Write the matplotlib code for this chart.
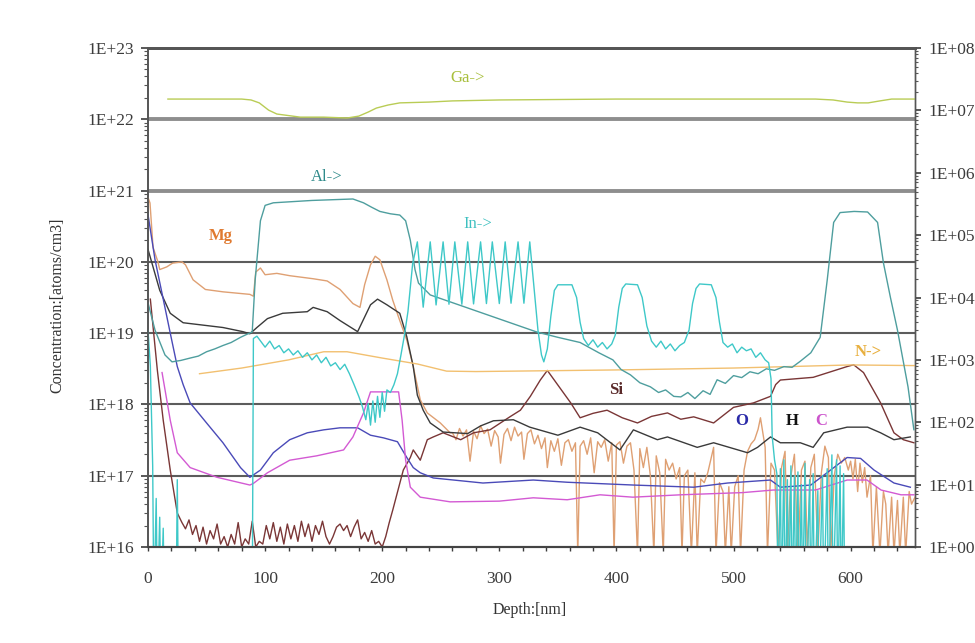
import matplotlib
matplotlib.use("Agg")
import numpy as np
import matplotlib.pyplot as plt
from matplotlib.ticker import LogLocator, MultipleLocator, NullFormatter

plt.rcParams["font.family"] = ["Liberation Serif", "DejaVu Serif"]

# ---- right axis (counts): Ga, Al, In, N ----
ga_depth = [17, 80, 88, 95, 103, 110, 130, 150, 170, 180, 188, 195, 205, 215, 240,
            260, 300, 400, 500, 570, 585, 597, 606, 615, 625, 635, 655]
ga_counts = [1.52e7, 1.52e7, 1.47e7, 1.32e7, 1.01e7, 8.75e6, 7.8e6, 7.8e6, 7.55e6, 8.1e6,
             9.4e6, 1.09e7, 1.22e7, 1.32e7, 1.36e7, 1.42e7, 1.47e7, 1.52e7, 1.52e7,
             1.52e7, 1.47e7, 1.36e7, 1.32e7, 1.32e7, 1.42e7, 1.52e7, 1.52e7]

al_depth = [0, 6, 14.5, 20.5, 28, 36, 43, 50, 57, 64, 71, 79, 85, 89, 91.5, 96, 100, 107,
            140, 175, 184, 191, 198, 207, 215, 220, 224, 228, 231, 241, 332, 350, 369,
            385, 397, 404, 412, 420, 429, 436, 442, 449, 455, 461, 467, 474, 480, 486,
            493, 500, 507, 514, 521, 528, 535, 543, 550, 557, 566, 574, 580, 585.5, 591,
            603, 614.5, 623, 628, 634, 640, 649, 654]
al_counts = [8.2e3, 3.0e3, 1.2e3, 930, 980, 1.07e3, 1.15e3, 1.35e3, 1.5e3, 1.7e3, 1.9e3,
             2.3e3, 2.6e3, 2.8e3, 1.9e4, 1.7e5, 3.0e5, 3.3e5, 3.6e5, 3.8e5, 3.3e5, 2.8e5,
             2.4e5, 2.2e5, 2.1e5, 1.7e5, 8.3e4, 2.8e4, 1.7e4, 1.1e4, 2.8e3, 2.3e3, 1.9e3,
             1.3e3, 1.0e3, 700, 575, 430, 370, 300, 330, 260, 255, 300, 240, 320, 280, 480,
             420, 560, 520, 645, 600, 720, 680, 780, 760, 950, 1.3e3, 2.3e3, 1.9e4, 1.6e5,
             2.3e5, 2.4e5, 2.35e5, 1.6e5, 3.6e4, 1.0e4, 3.0e3, 370, 76]

in_depth = [0, 2, 4, 5, 7, 8, 10, 11, 13, 14, 24, 25, 26, 89, 90, 93, 97, 100, 104, 108,
            112, 116, 120, 124, 128, 132, 136, 140, 144, 148, 152, 156, 160, 164, 168,
            172, 176, 180, 183, 186, 188, 190, 192, 194, 196, 198, 200, 202, 204, 207,
            210, 213, 216, 219, 222, 226,
            230, 235, 241, 246, 252, 257, 262, 268, 273, 278, 284, 289, 294, 300, 305,
            310, 316, 321, 326,
            333, 336, 338, 341, 344, 347, 350, 362, 366, 369, 372, 376, 380, 384, 388,
            392, 396, 399, 402, 405, 408, 418, 422, 426, 430, 434, 438, 442, 446, 450,
            454, 458, 462, 465, 468, 471, 481, 485, 488, 491, 495, 499, 503, 507, 511,
            515, 519, 523, 527, 530, 532, 533, 535, 537, 538,
            540, 541, 543, 544, 546, 547, 549, 550, 552, 553, 555, 556, 558, 559, 561,
            562, 565, 566, 568, 569, 572, 573, 576, 577, 580, 581, 584, 585, 588, 589,
            591, 592, 594, 595, 655]
in_counts = [3.0e3, 800, 20, 0.1, 6, 0.1, 3, 0.1, 2, 0.1, 0.1, 12, 0.1, 0.1, 2.2e3, 2.4e3,
             1.9e3, 1.6e3, 2.0e3, 1.5e3, 1.7e3, 1.3e3, 1.5e3, 1.2e3, 1.4e3, 1.1e3, 1.3e3,
             1.0e3, 1.2e3, 900, 1.1e3, 800, 900, 700, 850, 600, 400, 260, 180, 110, 200,
             90, 220, 100, 260, 120, 300, 150, 330, 300, 400, 600, 1.2e3, 2.5e3, 6.0e3,
             3.5e4,
             7.8e4, 7.0e3, 7.8e4, 7.6e3, 7.8e4, 7.8e3, 7.8e4, 7.8e3, 7.8e4, 7.9e3, 7.8e4,
             8.0e3, 7.8e4, 8.0e3, 7.8e4, 8.1e3, 7.8e4, 8.1e3, 7.8e4,
             3.0e3, 1.2e3, 930, 1.5e3, 5.0e3, 1.3e4, 1.6e4, 1.6e4, 1.0e4, 4.0e3, 2.2e3,
             1.7e3, 2.1e3, 1.6e3, 1.9e3, 1.5e3, 1.8e3, 2.5e3, 7.0e3, 1.4e4, 1.65e4, 1.6e4,
             1.0e4, 3.5e3, 2.0e3, 1.6e3, 2.0e3, 1.5e3, 1.8e3, 1.4e3, 1.7e3, 1.9e3, 3.0e3,
             8.0e3, 1.4e4, 1.65e4, 1.6e4, 1.0e4, 4.0e3, 1.9e3, 1.6e3, 1.8e3, 1.3e3, 1.6e3,
             1.4e3, 1.5e3, 1.1e3, 1.3e3, 1.0e3, 900, 500, 60, 25, 15, 0.1,
             18, 0.1, 25, 0.1, 12, 0.1, 20, 0.1, 14, 0.1, 16, 0.1, 10, 0.1, 22,
             0.1, 12, 0.1, 15, 0.1, 8, 0.1, 14, 0.1, 18, 0.1, 30, 0.1, 25, 0.1,
             20, 0.1, 15, 0.1, 0.1]

n_depth = [44, 80, 120, 150, 170, 200, 230, 255, 280, 400, 500, 600, 655]
n_counts = [600, 740, 1000, 1350, 1350, 1070, 860, 660, 650, 690, 740, 830, 810]

# ---- left axis (atoms/cm3): Mg, Si, H, O, C ----
mg_depth = [0, 1.7, 4.3, 8.5, 10, 16, 21, 29, 32, 38.5, 49, 64, 87, 90, 92, 96, 100, 110,
            121, 131, 141, 153, 164, 175, 181, 185, 190, 194, 198, 204, 209, 215, 221,
            226.5, 232.5, 238.5, 249.6, 258,
            260, 263, 266, 269, 272, 275, 278, 281, 284, 287, 290, 293, 296, 299, 301,
            304, 307, 310, 313, 316, 319, 321, 324, 327, 330, 333, 336, 339, 341, 344,
            347, 350, 353, 356, 359, 362, 365, 367, 369, 372, 375, 378, 381, 384, 387,
            390, 393, 396, 398, 400, 403, 406, 409, 412, 415, 418, 420, 423, 426, 429,
            432, 434, 437, 440, 442, 445, 448, 451, 454, 456, 458, 461, 464, 467, 469,
            472, 475, 478, 481, 483, 485, 488, 491, 493, 496, 498, 501, 504, 506, 509,
            512, 515, 518, 521, 523, 525, 527, 529, 532, 535, 538, 541, 544, 546, 549,
            552, 555, 558, 561, 563, 566, 569, 572, 575, 578, 581, 583, 586, 589, 592,
            595, 598, 600, 602, 604, 606, 608, 610, 612, 614, 617, 619, 622, 625, 628,
            630, 632, 635, 637, 640, 642, 645, 647, 650, 652, 655]
mg_conc = [8e20, 6.7e20, 1.6e20, 1.0e20, 7.8e19, 8.5e19, 9.6e19, 1.0e20, 9.1e19, 5.6e19,
           4.1e19, 3.8e19, 3.5e19, 3.3e19, 7.2e19, 8.2e19, 6.6e19, 6.9e19, 6.4e19, 6.1e19,
           5.8e19, 5.4e19, 4.1e19, 2.6e19, 2.3e19, 4.8e19, 9.1e19, 1.2e20, 1.07e20, 5.6e19,
           2.9e19, 1.5e19, 8e18, 3.4e18, 1.16e18, 7.6e17, 5.5e17, 4e17,
           4.0e17, 3.2e17, 4.6e17, 3.6e17, 4.4e17, 1.6e17, 4.2e17, 3.3e17, 5.0e17, 3.9e17,
           4.5e17, 2.6e17, 4.3e17, 3.5e17, 1.5e17, 3.8e17, 4.6e17, 3.1e17, 4.8e17, 3.6e17,
           4.1e17, 1.7e17, 3.9e17, 4.4e17, 2.8e17, 3.7e17, 2.4e17, 3.4e17, 1.3e17, 3.1e17,
           2.2e17, 3.3e17, 1.4e17, 2.9e17, 3.2e17, 2.2e17, 2.9e17, 8e15, 2.6e17, 3.1e17,
           2.0e17, 3.4e17, 1.1e17, 3.0e17, 2.5e17, 3.2e17, 1.6e17, 2.9e17, 8e15, 2.7e17,
           3.0e17, 1.5e17, 2.6e17, 2.9e17, 1.2e17, 8e15, 2.4e17, 1.3e17, 2.5e17, 1.0e17,
           8e15, 1.9e17, 1.1e17, 8e15, 1.7e17, 1.2e17, 1.5e17, 9e16, 1.3e17, 8e15,
           1.0e17, 1.2e17, 8e15, 1.1e17, 8e15, 9e16, 8e16, 1.1e17, 1.8e17, 2.5e17,
           8e15, 8e16, 6e16, 8e15, 7e16, 8e15, 7e16, 1.0e17, 8e15, 1.2e17,
           2.2e17, 2.8e17, 3.2e17, 4.5e17, 6.5e17, 4.0e17, 2.5e17, 8e15, 1.5e17, 1.2e17,
           8e15, 1.3e17, 2.2e17, 8e15, 1.0e17, 2.0e17, 8e15, 1.2e17, 1.6e17, 8e15,
           1.3e17, 2.0e17, 8e15, 1.1e17, 2.6e17, 1.8e17, 8e15, 1.0e17, 2.0e17, 1.5e17,
           1.8e17, 1.2e17, 1.6e17, 9e16, 1.7e17, 6e16, 1.5e17, 8e16, 1.3e17, 5e16,
           1.0e17, 8e15, 7e16, 8e15, 6e16, 4e16, 8e15, 5e16, 8e15, 4.5e16,
           8e15, 5e16, 8e15, 6e16, 4e16, 5e16]

si_depth = [2, 8, 13, 19, 25, 29, 32, 35, 38, 41, 44, 47, 50, 53, 56, 59, 62, 65, 68, 71,
            74, 77, 80, 83, 86, 89, 92, 95, 98, 101, 104, 107, 110, 113, 116, 119, 122,
            125, 128, 131, 134, 137, 140, 143, 146, 149, 152, 155, 158, 161, 164, 167, 170,
            173, 176, 179, 182, 185, 188, 191, 194, 197, 200, 203, 206, 209, 218, 224,
            226.5, 232.5, 238.5, 243.6, 252, 267, 278, 292, 301, 309, 318, 326.5, 335, 341,
            361, 369, 380, 392, 405, 418, 430, 443.6, 455, 466, 483, 500, 517, 531.6, 536,
            540, 568, 597, 602.6, 611, 625.6, 637, 645, 654]
si_conc = [3e19, 3e18, 6e17, 1.2e17, 3e16, 2.2e16, 1.8e16, 2.4e16, 1.5e16, 2.0e16, 1.2e16,
           1.9e16, 1.1e16, 1.7e16, 1.3e16, 2.1e16, 1.1e16, 1.4e16, 1.0e16, 1.5e16, 1.1e16,
           2.2e16, 1.0e16, 1.3e16, 1.1e16, 2.3e16, 1.0e16, 1.2e16, 1.1e16, 2.0e16, 1.3e16,
           2.2e16, 1.2e16, 1.9e16, 1.1e16, 2.1e16, 1.3e16, 2.0e16, 1.2e16, 2.3e16, 1.4e16,
           2.1e16, 1.2e16, 2.0e16, 1.5e16, 2.3e16, 1.4e16, 1.1e16, 1.4e16, 1.9e16, 2.1e16,
           1.7e16, 2.0e16, 1.4e16, 1.9e16, 2.4e16, 1.3e16, 1.6e16, 1.2e16, 1.7e16, 1.1e16,
           1.2e16, 1.0e16, 1.4e16, 2.2e16, 3.3e16, 1.2e17, 1.8e17, 2.3e17, 1.65e17, 3.2e17,
           3.5e17, 4e17, 3.2e17, 4e17, 4.4e17, 5.5e17, 6.7e17, 8.3e17, 1.3e18, 2.2e18, 3e18,
           1.05e18, 6.5e17, 7.5e17, 8.3e17, 6.5e17, 5.5e17, 6.8e17, 7.6e17, 6.2e17, 6.7e17,
           5.5e17, 9.1e17, 1.05e18, 1.3e18, 1.9e18, 2.2e18, 2.4e18, 3.4e18, 3.6e18, 2.8e18,
           1.05e18, 4e17, 3.2e17, 2.9e17]

h_depth = [0, 10, 19, 30, 64, 81, 87, 93, 102, 115, 136, 141, 153, 164, 179, 190, 196, 204,
           215, 221, 226.5, 230, 235, 241, 252, 273, 284, 295, 312, 326, 350, 369, 384,
           403, 414.5, 435, 443.6, 469, 483, 512, 520.5, 531.6, 540, 557, 568, 577, 597,
           614.5, 625.6, 637, 651]
h_conc = [1.5e20, 4e19, 1.9e19, 1.4e19, 1.2e19, 1.05e19, 9.8e18, 1.2e19, 1.6e19, 1.9e19,
          2e19, 2.3e19, 2e19, 1.5e19, 1.05e19, 2.5e19, 3e19, 2.5e19, 1.9e19, 8.9e18, 3.4e18,
          1.35e18, 8.3e17, 5.5e17, 4.1e17, 3.9e17, 5e17, 5.9e17, 6.1e17, 4.8e17, 3.7e17,
          4.8e17, 4e17, 2.3e17, 4.4e17, 3.2e17, 3.5e17, 2.5e17, 2.9e17, 2.1e17, 2.5e17,
          3.5e17, 2.9e17, 2.9e17, 2.5e17, 4e17, 4.8e17, 4.8e17, 4e17, 3.2e17, 3.5e17]

o_depth = [0, 6, 13, 19, 25, 30, 36, 50, 64, 79, 87, 96, 107, 121, 136, 150, 164, 179,
           190, 201, 213, 221, 226.5, 232.5, 243.6, 286, 329, 358, 414.5, 466, 495, 531.6,
           540, 566, 597, 608.5, 620, 637, 651]
o_conc = [4.6e20, 1.07e20, 3e19, 1e19, 3.4e18, 1.9e18, 1.05e18, 5.5e17, 2.9e17, 1.3e17,
          9.5e16, 1.2e17, 2.1e17, 3.2e17, 4e17, 4.4e17, 4.7e17, 4.7e17, 3.7e17, 3.4e17,
          3e17, 1.8e17, 1.3e17, 1.1e17, 9.3e16, 7.9e16, 8.7e16, 8.1e16, 7.4e16, 6.9e16,
          7.9e16, 8.7e16, 6.9e16, 7.4e16, 1.8e17, 1.75e17, 1.2e17, 7.9e16, 6.9e16]

c_depth = [12, 19, 25, 36, 59, 87, 90, 102, 121, 144, 167, 175, 184, 190, 214, 217, 220,
           224, 232.5, 258, 300, 329, 358, 386, 414, 455, 508, 534, 570, 597, 614, 626,
           643, 654]
c_conc = [2.8e18, 6e17, 2.1e17, 1.3e17, 9.5e16, 7.4e16, 7.8e16, 1.1e17, 1.65e17, 1.9e17,
          2.3e17, 3.5e17, 7.6e17, 1.5e18, 1.5e18, 6e17, 1.65e17, 6.9e16, 5e16, 4.3e16,
          4.4e16, 4.9e16, 4.6e16, 5.4e16, 5.0e16, 5.4e16, 5.8e16, 6.3e16, 6.3e16, 8.7e16,
          8.7e16, 6.3e16, 5.4e16, 5.4e16]

left_ticks = [1e16, 1e17, 1e18, 1e19, 1e20, 1e21, 1e22, 1e23]
right_ticks = [1e0, 1e1, 1e2, 1e3, 1e4, 1e5, 1e6, 1e7, 1e8]
depth_ticks = [0, 100, 200, 300, 400, 500, 600]

fig = plt.figure(figsize=(9.75, 6.43), dpi=100)
fig.patch.set_facecolor("white")
ax = fig.add_axes([0.1518, 0.1493, 0.7867, 0.7760])
ax2 = ax.twinx()

ax.set_yscale("log")
ax.set_xlim(0, 655)
ax.set_ylim(1e16, 1e23)
ax2.set_yscale("log")
ax2.set_ylim(1e0, 1e8)

# decade lines
for v in left_ticks[1:-1]:
    if v in (1e21, 1e22):
        ax.axhline(v, color="#8e8e8e", lw=2.8, zorder=1)
    else:
        ax.axhline(v, color="#5c5c5c", lw=1.5, zorder=1)

lw = 1.0
ax.plot(mg_depth, mg_conc, color="#dfa073", lw=lw, zorder=3)
ax.plot(si_depth, si_conc, color="#7a3636", lw=lw, zorder=3)
ax.plot(h_depth, h_conc, color="#3a3a3a", lw=lw, zorder=3)
ax.plot(o_depth, o_conc, color="#4a4ab8", lw=lw, zorder=3)
ax.plot(c_depth, c_conc, color="#d35ad3", lw=lw, zorder=3)

ax2.plot(ga_depth, ga_counts, color="#b9cc55", lw=lw)
ax2.plot(n_depth, n_counts, color="#f2c070", lw=lw)
ax2.plot(al_depth, al_counts, color="#4e9e9e", lw=lw)
ax2.plot(in_depth, in_counts, color="#3ec8c8", lw=lw)

tick_color = "#3c3c3c"
ax.set_yticks(left_ticks)
ax.set_yticklabels([f"1E+{int(round(np.log10(v)))}" for v in left_ticks])
ax.yaxis.set_minor_locator(LogLocator(base=10, subs=range(2, 10)))
ax.yaxis.set_minor_formatter(NullFormatter())
ax.set_xticks(depth_ticks)
ax.set_xticklabels([str(t) for t in depth_ticks])
ax.xaxis.set_minor_locator(MultipleLocator(20))
ax.tick_params(axis="y", which="major", length=5, width=1.2, pad=5,
               labelsize=12.5, colors=tick_color)
ax.tick_params(axis="y", which="minor", length=3, width=0.8, colors="#555555")
ax.tick_params(axis="x", which="both", length=3, width=1.0, pad=14,
               labelsize=12.5, colors=tick_color)

ax2.set_yticks(right_ticks)
ax2.set_yticklabels([f"1E+{int(round(np.log10(v))):02d}" for v in right_ticks])
ax2.yaxis.set_minor_locator(LogLocator(base=10, subs=range(2, 10)))
ax2.yaxis.set_minor_formatter(NullFormatter())
ax2.tick_params(axis="y", which="major", length=4, width=1.2, pad=6,
                labelsize=12.5, colors=tick_color)
ax2.tick_params(axis="y", which="minor", length=2.5, width=0.8, colors="#555555")

for a in (ax, ax2):
    a.spines["top"].set_color("#555555")
    a.spines["top"].set_linewidth(2.0)
    a.spines["bottom"].set_color("#444444")
    a.spines["bottom"].set_linewidth(1.5)
    a.spines["left"].set_color("#555555")
    a.spines["left"].set_linewidth(1.2)
    a.spines["right"].set_color("#555555")
    a.spines["right"].set_linewidth(1.0)

# series labels
labels = [
    ("Ga->", 0.416, 0.940, "#a8bf3c", "normal"),
    ("Al->", 0.233, 0.741, "#2f8a8a", "normal"),
    ("In->", 0.430, 0.647, "#3ec0c0", "normal"),
    ("Mg", 0.095, 0.623, "#e07a30", "bold"),
    ("N->", 0.939, 0.391, "#e8b040", "bold"),
    ("Si", 0.610, 0.315, "#5a2a2a", "bold"),
    ("O", 0.774, 0.253, "#2a2aa8", "bold"),
    ("H", 0.840, 0.253, "#111111", "bold"),
    ("C", 0.877, 0.253, "#cc55cc", "bold"),
]
for txt, fx, fy, col, wt in labels:
    ax.text(fx, fy, txt, transform=ax.transAxes, color=col, fontsize=12,
            fontweight=wt, ha="center", va="center", zorder=5)

fig.text(57 / 975, 1 - 305 / 643, "Concentration:[atoms/cm3]", rotation=90,
         ha="center", va="center", fontsize=11.5, color="#333333")
fig.text(530 / 975, 1 - 610 / 643, "Depth:[nm]", ha="center", va="center",
         fontsize=11.5, color="#333333")

fig.savefig("out.png", dpi=100, facecolor="white")
